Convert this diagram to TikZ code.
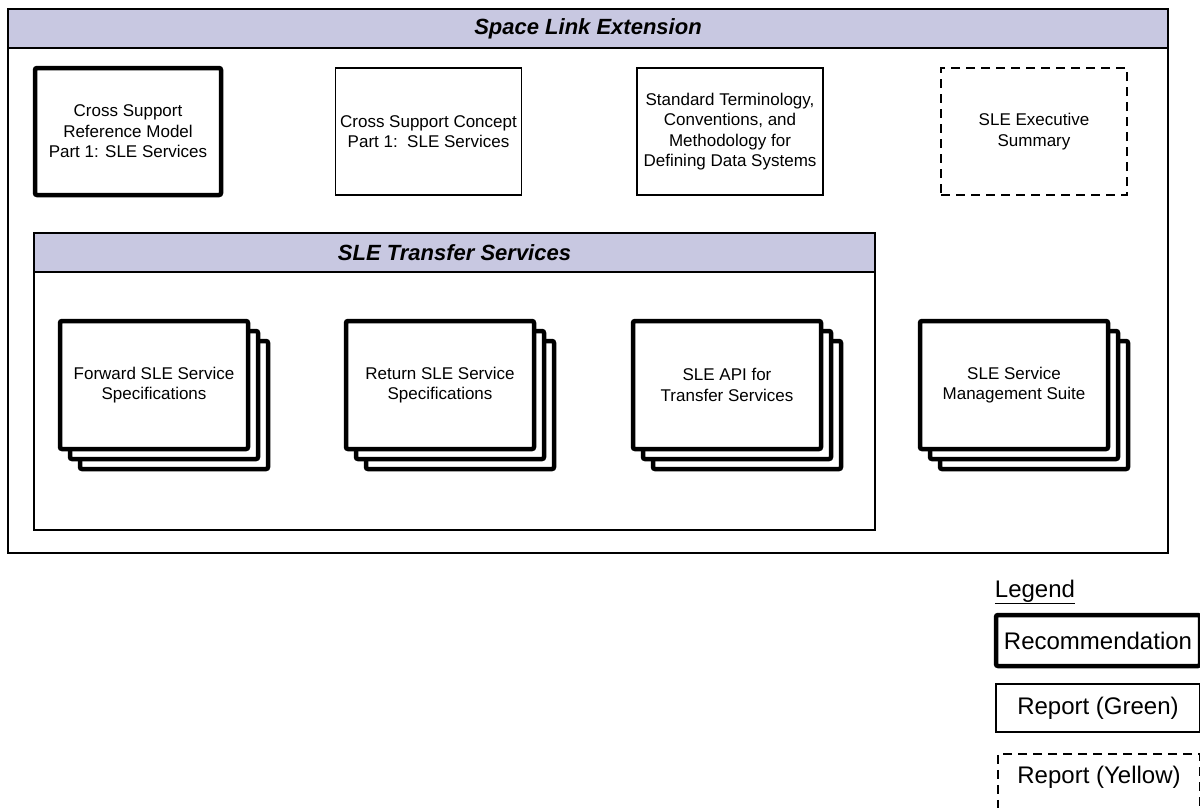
\documentclass[tikz,border=0pt]{standalone}
\usepackage{fontspec}
\setmainfont{Liberation Sans}
\usetikzlibrary{positioning}

\definecolor{barblue}{RGB}{200,200,225}
\newcommand{\slebox}{\fontsize{17}{20.5}\selectfont}
\newcommand{\slebar}{\fontsize{22}{26}\selectfont\bfseries\itshape}
\newcommand{\slelegend}{\fontsize{24}{28}\selectfont}

\tikzstyle{recbox} = [draw=black, fill=white, line width=4.5pt,
    rectangle, rounded corners=2pt, inner sep=0pt, align=center, font=\slebox]
\tikzstyle{grnbox} = [draw=black, fill=white, line width=1.6pt,
    rectangle, inner sep=0pt, align=center, font=\slebox]
\tikzstyle{yelbox} = [grnbox, dash pattern=on 9pt off 6pt]
\tikzstyle{topsize} = [minimum width=186pt, minimum height=127pt]
\tikzstyle{stacksize} = [minimum width=188pt, minimum height=128pt]
\tikzstyle{barbox} = [draw=black, fill=barblue, line width=2pt]
\tikzstyle{bartitle} = [font=\slebar, inner sep=0pt]
\tikzstyle{legtext} = [font=\slelegend, inner sep=0pt]

\begin{document}
\begin{tikzpicture}[x=1pt, y=-1pt]
\useasboundingbox (0,0) rectangle (1200,807);
\clip (0,0) rectangle (1200,807);

% Space Link Extension
\draw[line width=2pt] (8,9) rectangle (1168,553);
\draw[barbox] (8,9) rectangle (1168,48);
\node[bartitle] (slehead) at (588,28.5) {Space Link Extension};

\node[recbox, topsize] (csrm) at (128,131.5) {Cross Support\\Reference Model\\Part 1: SLE Services};
\node[grnbox, topsize] (csc) at (428.5,131.5) {Cross Support Concept\\Part 1:\ \ SLE Services};
\node[grnbox, topsize] (terms) at (730,131.5) {Standard Terminology,\\Conventions, and\\Methodology for\\Defining Data Systems};
\node[yelbox, topsize] (exec) at (1034,131.5) {SLE Executive\\Summary};

% SLE Transfer Services
\draw[line width=2pt] (34,233) rectangle (875,530);
\draw[barbox] (34,233) rectangle (875,272);
\node[bartitle] (xferhead) at (454.5,252.5) {SLE Transfer Services};

\foreach \name/\cx/\txt in {fwd/154/{Forward SLE Service\\Specifications},
    ret/440/{Return SLE Service\\Specifications},
    api/727/{SLE API for\\Transfer Services},
    mgmt/1014/{SLE Service\\Management Suite}} {
  \node[recbox, stacksize] at (\cx+20,405) {};
  \node[recbox, stacksize] at (\cx+10,395) {};
  \node[recbox, stacksize] (\name) at (\cx,385) {\txt};
}

% Legend
\node[legtext] (legend) at (1035,592) {\underline{Legend}};
\node[recbox, font=\slelegend, minimum width=204pt, minimum height=51pt] (rec) at (1098,640.5) {Recommendation};
\node[grnbox, font=\slelegend, minimum width=204pt, minimum height=48pt] (green) at (1098,708) {Report (Green)};
\node[yelbox, minimum width=202pt, minimum height=60pt, anchor=north] (yellow) at (1099,753) {};
\node[legtext] (yellowtxt) at (1099,777) {Report (Yellow)};
\end{tikzpicture}
\end{document}
